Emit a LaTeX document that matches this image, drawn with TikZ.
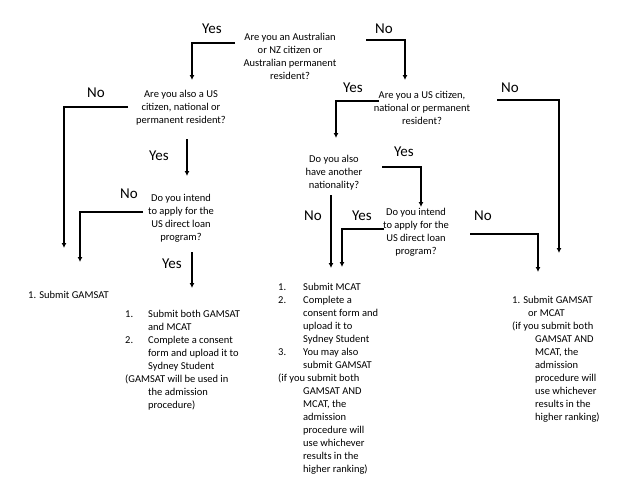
\documentclass[tikz,border=0pt]{standalone}
\usepackage{fontspec}
\setmainfont{Carlito}
\usetikzlibrary{positioning,arrows.meta}

\begin{document}
\begin{tikzpicture}[x=1pt, y=-1pt,
		question/.style={align=center, inner sep=0pt, font=\fontsize{10.5}{13}\selectfont},
		result/.style={align=left, inner sep=0pt, anchor=base west, font=\fontsize{10.5}{13}\selectfont},
		answer/.style={inner sep=0pt, font=\fontsize{15}{18}\selectfont},
		flow/.style={-{Latex[length=5pt,width=5pt]}, line width=1.6pt}]
				\useasboundingbox (0,0) rectangle (640,480);
				% questions
				\node[question] (Q1) at (290, 56) {Are you an Australian\\or NZ citizen or\\Australian permanent\\resident?};
				\node[question] (Q2) at (181, 108) {Are you also a US\\citizen, national or\\permanent resident?};
				\node[question] (Q3) at (422, 108) {Are you a US citizen,\\national or permanent\\resident?};
				\node[question] (Q4) at (181, 218) {Do you intend\\to apply for the\\US direct loan\\program?};
				\node[question] (Q5) at (334, 173) {Do you also\\have another\\nationality?};
				\node[question] (Q6) at (416, 232) {Do you intend\\to apply for the\\US direct loan\\program?};
				% outcomes (base = last line)
				\node[result] (R1) at (28, 298) {1. Submit GAMSAT};
				\node[result] (R2) at (125, 408) {\makebox[23pt][l]{1.}Submit both GAMSAT\\
					\hspace*{23pt}and MCAT\\
					\makebox[23pt][l]{2.}Complete a consent\\
					\hspace*{23pt}form and upload it to\\
					\hspace*{23pt}Sydney Student\\
					(GAMSAT will be used in\\
					\hspace*{23pt}the admission\\
					\hspace*{23pt}procedure)};
				\node[result] (R3) at (278, 472) {\makebox[25pt][l]{1.}Submit MCAT\\
					\makebox[25pt][l]{2.}Complete a\\
					\hspace*{25pt}consent form and\\
					\hspace*{25pt}upload it to\\
					\hspace*{25pt}Sydney Student\\
					\makebox[25pt][l]{3.}You may also\\
					\hspace*{25pt}submit GAMSAT\\
					(if you submit both\\
					\hspace*{25pt}GAMSAT AND\\
					\hspace*{25pt}MCAT, the\\
					\hspace*{25pt}admission\\
					\hspace*{25pt}procedure will\\
					\hspace*{25pt}use whichever\\
					\hspace*{25pt}results in the\\
					\hspace*{25pt}higher ranking)};
				\node[result] (R4) at (512, 420) {1. Submit GAMSAT\\
					\hspace*{16pt}or MCAT\\
					(if you submit both\\
					\hspace*{23pt}GAMSAT AND\\
					\hspace*{23pt}MCAT, the\\
					\hspace*{23pt}admission\\
					\hspace*{23pt}procedure will\\
					\hspace*{23pt}use whichever\\
					\hspace*{23pt}results in the\\
					\hspace*{23pt}higher ranking)};
				% yes / no labels
				\node[answer] (Y1) at (212, 29) {Yes};
				\node[answer] (N1) at (384, 29) {No};
				\node[answer] (N2) at (96, 93) {No};
				\node[answer] (Y2) at (159, 156) {Yes};
				\node[answer] (N4) at (129, 194) {No};
				\node[answer] (Y4) at (172, 264) {Yes};
				\node[answer] (Y3) at (353, 88) {Yes};
				\node[answer] (N3) at (510, 88) {No};
				\node[answer] (Y5) at (404, 152) {Yes};
				\node[answer] (N5) at (313, 216) {No};
				\node[answer] (Y6) at (362, 216) {Yes};
				\node[answer] (N6) at (483, 216) {No};
				% connector ends
				\coordinate (q1yes) at (235, 43);
				\coordinate (q2top) at (192, 80);
				\coordinate (q1no) at (366, 40);
				\coordinate (q3top) at (405, 80);
				\coordinate (q2no) at (128, 107);
				\coordinate (r1a) at (64, 248);
				\coordinate (q2yes) at (187, 139);
				\coordinate (q4top) at (187, 176);
				\coordinate (q4no) at (143, 212);
				\coordinate (r1b) at (80, 262);
				\coordinate (q4yes) at (192, 252);
				\coordinate (r2top) at (192, 288);
				\coordinate (q3yes) at (379, 101);
				\coordinate (q5top) at (336, 138);
				\coordinate (q3no) at (497, 100);
				\coordinate (r4a) at (559, 253);
				\coordinate (q5yes) at (382, 167);
				\coordinate (q6top) at (421, 207);
				\coordinate (q5no) at (331, 195);
				\coordinate (r3a) at (331, 268);
				\coordinate (q6yes) at (384, 229);
				\coordinate (r3b) at (342, 267);
				\coordinate (q6no) at (470, 234);
				\coordinate (r4b) at (538, 272);
				% connectors
				\draw[flow] (q1yes) -| (q2top);
				\draw[flow] (q1no) -| (q3top);
				\draw[flow] (q2no) -| (r1a);
				\draw[flow] (q2yes) -- (q4top);
				\draw[flow] (q4no) -| (r1b);
				\draw[flow] (q4yes) -- (r2top);
				\draw[flow] (q3yes) -| (q5top);
				\draw[flow] (q3no) -| (r4a);
				\draw[flow] (q5yes) -| (q6top);
				\draw[flow] (q5no) -- (r3a);
				\draw[flow] (q6yes) -| (r3b);
				\draw[flow] (q6no) -| (r4b);
			\end{tikzpicture}
\end{document}
